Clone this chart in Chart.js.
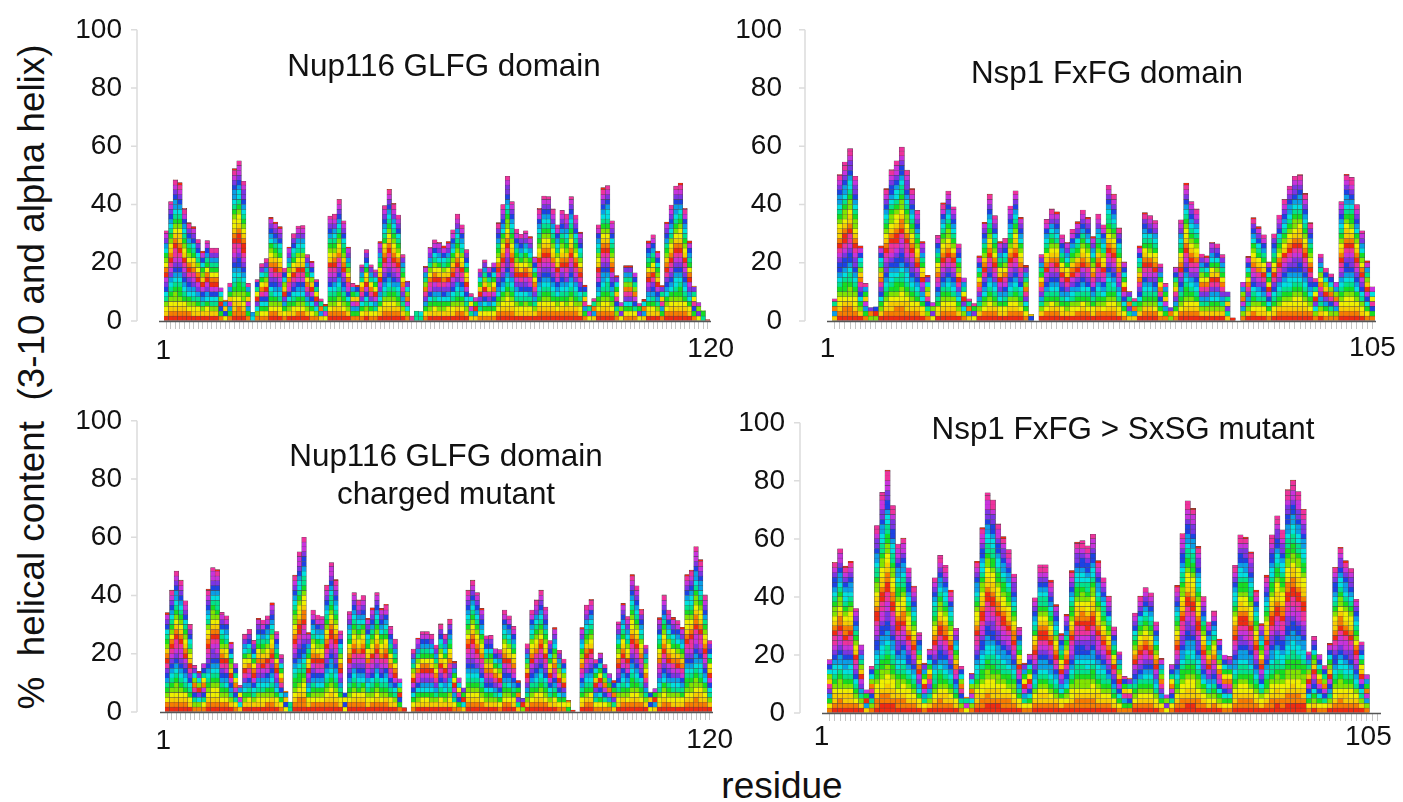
<!DOCTYPE html>
<html>
<head>
<meta charset="utf-8">
<script src="https://cdn.jsdelivr.net/npm/chart.js@4"></script>
<style>
  html, body { margin: 0; background: #fff; }
  body { width: 1403px; height: 802px; position: relative; overflow: hidden; font-family: "Liberation Sans", Arial, sans-serif; color: #111; }
  canvas { position: absolute; filter: blur(0.5px); }
  .txt { position: absolute; white-space: pre; transform: translate(-50%, -50%); font-size: 31.4px; }
</style>
</head>
<body>
<canvas id="c1"></canvas>
<canvas id="c2"></canvas>
<canvas id="c3"></canvas>
<canvas id="c4"></canvas>
<div class="txt" style="left:444px;top:66px">Nup116 GLFG domain</div>
<div class="txt" style="left:1107px;top:73px">Nsp1 FxFG domain</div>
<div class="txt" style="left:446px;top:456px">Nup116 GLFG domain</div>
<div class="txt" style="left:446px;top:494px">charged mutant</div>
<div class="txt" style="left:1123px;top:429px">Nsp1 FxFG &gt; SxSG mutant</div>
<div class="txt" style="left:782px;top:786px;font-size:37px">residue</div>
<div class="txt" style="left:32px;top:377px;font-size:36.8px;transform:translate(-50%,-50%) rotate(-90deg)">%  helical content  (3-10 and alpha helix)</div>
<script>
// % helical content per residue
const nup116 = [31,41,48.5,47.5,38.7,33.8,32.4,28,24,27.6,25,25,11.4,7.2,13,52.3,55,48,12.9,3,14.2,19.7,21.4,35.6,34,32.4,18.2,25.4,30,32.6,32.8,22.8,20.5,14.2,7.6,5.7,36,36.7,41.7,34.4,25.4,12.9,12.3,19.3,24.5,19.3,17.6,27.3,39.6,45.2,40.4,36.4,22.8,13.7,1.7,3.4,3.2,18.8,25.3,27.9,27,25.8,27.3,31.3,36.7,33,24.5,9.4,8,17.9,21,18.5,20,33.8,40,49.7,41,31.6,29.8,31,29,22,38.7,42.9,42.7,38.5,33,38,36.7,42.7,36.4,30.5,12.3,5.5,7.7,33,45.8,46.5,34.4,15.6,6.3,19,19,16.5,6,7.4,27.5,29.6,24,12.2,34,39.8,46.3,47.4,38.7,27.5,12,6.3,3.6,0.5];
const nsp1 = [7.6,50.3,54.6,59.2,49.7,25.8,12.9,4.6,4.9,25.8,45.5,52,55,59.7,51.8,45.5,38,27.3,15.7,6.3,29.4,40.6,44.6,39.2,26.5,14.8,7.6,6,22.4,33.9,43.6,36.2,27.3,28.4,39.5,44.7,35.6,19.1,2.3,0,22.8,34.9,38.5,37.5,29.6,27,31.5,34.1,38.1,35.6,29,36.7,33,46.6,43.6,32,20.3,10.2,7.7,25.8,37.2,36.2,34.5,19.6,12.9,4.6,18.5,34.7,47.4,41,38.5,23,22.4,27,26.5,22.8,10,1.1,0,13.3,22.2,35.5,32.4,29.6,20.3,29.9,36.4,41.8,46.3,49.7,50.3,43.8,33.8,14.6,23,18.2,16.2,13.3,41,50.4,49.3,40,31,20.7,11.7];
const nup116Charged = [34.1,41.9,48.4,45.3,38.2,30.1,16,14,16.6,42.2,49.6,48.9,34.2,33,24,16.6,9.2,26.8,28.4,24.6,32.2,31.6,33,37.5,27.6,19.7,7.2,3.4,47,55,60,27.3,35,33.3,32.8,43.6,51.3,45.5,27.9,6.6,34.5,41,38.5,40,32.2,35.8,41,35.6,37,29.4,25,11.4,1.5,0,21.6,25.4,27.6,27.6,26.8,23,30.3,26.8,31.9,17.4,11.7,8.3,41.9,45.3,41,35.6,26.2,26.3,21.7,21.4,35,33,29.4,10.8,4.7,23.4,35,38.5,41.9,36,24.5,29,21.2,18.2,4,0.7,0,29,36.7,38.7,18,20.3,16.3,13.2,10.8,31,37.3,32.8,47.2,43.3,35.3,23,6.8,8,32.4,40.2,35,32.5,31.4,29.1,47.2,48.7,56.7,52.3,40.2,24.5];
const nsp1Mutant = [18.4,51.9,56.6,50.6,52.3,36,23.5,8,16.1,64.6,76,83.7,71.5,58.2,60.3,50,43.7,27.7,17.2,22,46.6,54.3,50.9,42.4,29.2,16.1,5.5,13.7,52.3,63.9,75.9,73.4,65.2,60.8,56.3,47.9,29.5,17.2,20.3,39.7,51.1,51.1,45.8,37.4,27.4,34,49.1,58.9,59.4,57.6,61.6,52.5,46.6,40.3,29.7,21.1,12.6,12,34.4,40.3,43.2,41.4,31.4,18.8,6.3,16.7,44,61.8,73.1,70.5,57.4,40.1,31.4,35.2,25.5,20,19.5,50.9,61.4,60.6,55.5,42.4,30.8,47.5,61.4,67.9,63.1,77,80.3,76.3,70.2,21.1,26.4,20.1,16.3,24,50.2,57.1,52.5,49.8,39.2,24.5,13.2,0,0];

const yTicks = [0, 20, 40, 60, 80, 100];
const rainbow = ["#f02a10","#f67c00","#f6cc00","#eef000","#80e400","#14de22","#00e28c","#00e0e0","#0a9ee8","#1c42e4","#7c34e4","#c832dc","#ee329c"];
const CELL = 1.667; // one stacked block, in % helical content

function cellColor(total, layer) {
    // blocks run through the rainbow twice from base to top of each column
    const n = Math.max(1, total / CELL);
    const t = ((layer + 0.5) / n) * 2 % 1;
    return rainbow[Math.floor(t * rainbow.length)];
}

// draws the pale y axis and the dark baseline, which sit away from the bars,
// and nudges the first and last x labels to where they are in the figure
const axisLines = {
    id: "axisLines",
    beforeDraw(chart) {
        const o = chart.options.plugins.axisLines;
        const items = chart.scales.x.getLabelItems();
        [[items[0], o.first], [items[items.length - 1], o.last]].forEach(([item, shift]) => {
            item.options.translation = [item.options.translation[0] + shift[0], item.options.translation[1] + shift[1]];
        });
    },
    afterDraw(chart) {
        const ctx = chart.ctx, y = chart.scales.y, a = chart.chartArea;
        const ax = a.left - chart.options.plugins.axisLines.gap;
        ctx.save();
        ctx.strokeStyle = "#dcdcdc";
        ctx.lineWidth = 1.5;
        ctx.beginPath();
        ctx.moveTo(ax, y.getPixelForValue(100));
        ctx.lineTo(ax, y.getPixelForValue(0));
        yTicks.forEach(v => {
            ctx.moveTo(ax - 6, y.getPixelForValue(v));
            ctx.lineTo(ax, y.getPixelForValue(v));
        });
        ctx.stroke();
        ctx.strokeStyle = "#555";
        ctx.lineWidth = 1.5;
        ctx.beginPath();
        ctx.moveTo(a.left - 5, a.bottom + 0.5);
        ctx.lineTo(a.right + 1, a.bottom + 0.5);
        ctx.stroke();
        ctx.restore();
    }
};

function drawPanel(id, values, box) {
    const canvas = document.getElementById(id);
    const padLeft = 100, padRight = 45, padTop = 16, padBottom = 50;
    const w = box.right - box.left, h = box.bottom - box.top;
    canvas.width = w + padLeft + padRight;
    canvas.height = h + padTop + padBottom;
    canvas.style.left = (box.left - padLeft) + "px";
    canvas.style.top = (box.top - padTop) + "px";

    const labels = values.map((v, i) => i + 1);
    const last = values.length - 1;
    const layers = Math.ceil(Math.max(...values) / CELL);
    const datasets = [];
    for (let j = 0; j < layers; j++) {
        datasets.push({
            data: values.map(v => (v > j * CELL ? Math.min(CELL, v - j * CELL) : null)),
            backgroundColor: c => cellColor(values[c.dataIndex], j),
            borderColor: "#45454c",
            borderWidth: 0.4,
            borderSkipped: false,
            categoryPercentage: 1,
            barPercentage: 1
        });
    }

    new Chart(canvas, {
        type: "bar",
        data: { labels, datasets },
        plugins: [axisLines],
        options: {
            responsive: false,
            animation: false,
            events: [],
            layout: { padding: { top: padTop, right: padRight, left: 0, bottom: 0 } },
            plugins: {
                legend: { display: false },
                tooltip: { enabled: false },
                axisLines: { gap: box.left - box.axis, first: box.first, last: box.last }
            },
            scales: {
                x: {
                    stacked: true,
                    grid: { drawOnChartArea: false, offset: false, tickLength: 8, tickColor: "#c4c4c4", tickWidth: 1 },
                    border: { display: false },
                    afterFit: s => { s.height = padBottom; },
                    ticks: {
                        autoSkip: false, maxRotation: 0, minRotation: 0, padding: 3,
                        color: "#111",
                        font: { family: "Liberation Sans", size: 28 },
                        callback: (v, i) => (i === 0 || i === last ? labels[i] : "")
                    }
                },
                y: {
                    stacked: true,
                    min: 0,
                    max: 100,
                    grid: { drawOnChartArea: false, tickLength: box.left - box.labelRight - 1, tickColor: "transparent" },
                    border: { display: false },
                    afterFit: s => { s.width = padLeft; },
                    afterBuildTicks: s => { s.ticks = yTicks.map(v => ({ value: v })); },
                    ticks: {
                        color: "#111",
                        padding: 1,
                        font: { family: "Liberation Sans", size: 28 }
                    }
                }
            }
        }
    });
}

drawPanel("c1", nup116,        { axis: 137, labelRight: 122, left: 164, right: 710,  top: 28,  bottom: 321, first: [-3, 2], last: [3, 0] });
drawPanel("c2", nsp1,          { axis: 805, labelRight: 782, left: 832, right: 1375, top: 28,  bottom: 321, first: [-7, 0], last: [0, -1] });
drawPanel("c3", nup116Charged, { axis: 137, labelRight: 122, left: 165, right: 712,  top: 419, bottom: 712, first: [-4, 1], last: [0, 0] });
drawPanel("c4", nsp1Mutant,    { axis: 800, labelRight: 785, left: 827, right: 1380, top: 421, bottom: 713, first: [-8, -4], last: [-9, -4] });
</script>
</body>
</html>
